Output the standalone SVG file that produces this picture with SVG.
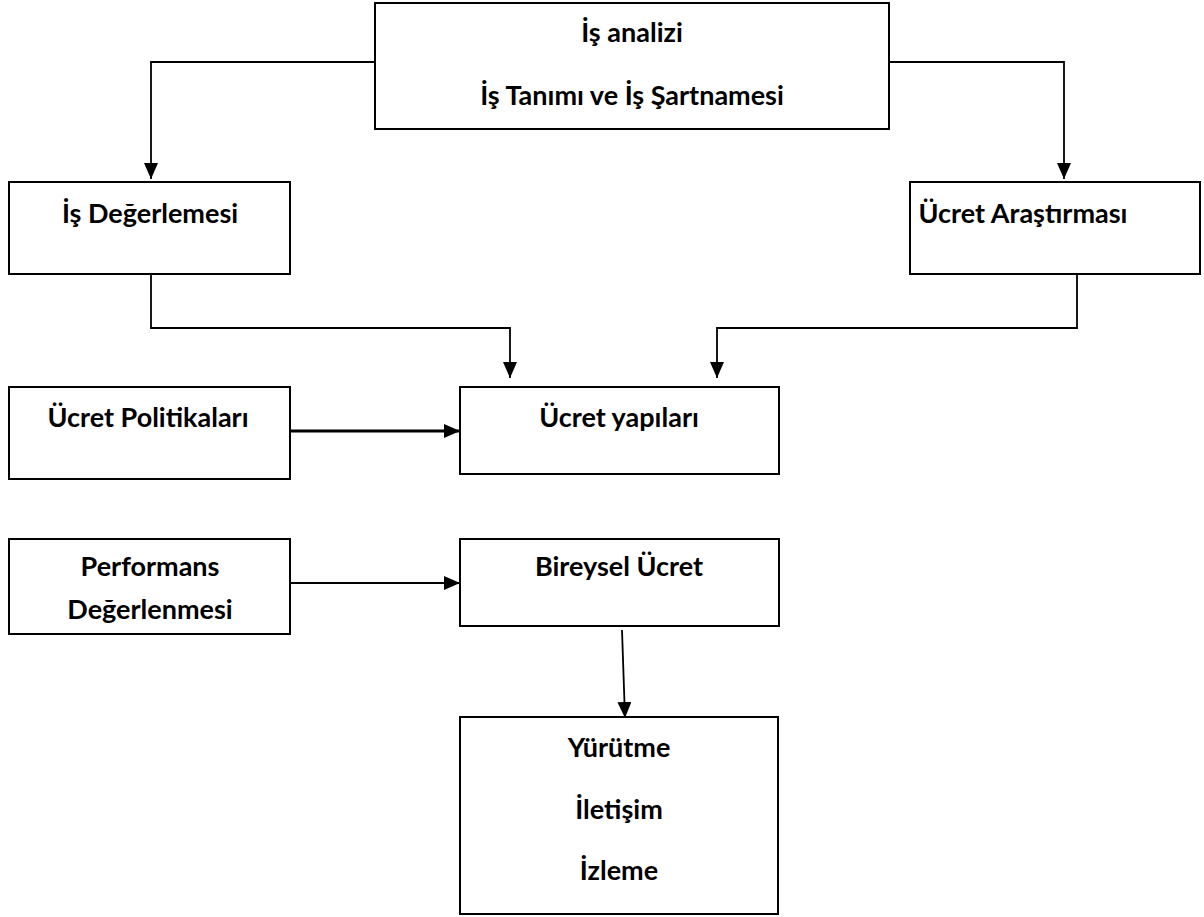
<svg xmlns="http://www.w3.org/2000/svg" width="1204" height="917" viewBox="0 0 1204 917">
  <style>
    .box { fill: #ffffff; stroke: #000000; stroke-width: 2; }
    .lbl { font-family: Lato, "Open Sans", "Liberation Sans", sans-serif; font-weight: bold; font-size: 27px; fill: #000000; text-anchor: middle; }
    .wire { fill: none; stroke: #000000; stroke-width: 1.8; }
    .wire.thick { stroke-width: 2.8; }
  </style>
  <defs>
    <marker id="head" viewBox="0 0 16 14" refX="16" refY="7" markerWidth="16" markerHeight="14" orient="auto" markerUnits="userSpaceOnUse">
      <path d="M0,0 L16,7 L0,14 Z" fill="#000000"/>
    </marker>
  </defs>

  <rect width="1204" height="917" fill="#ffffff"/>

  <g id="connectors">
    <path class="wire" d="M375,62 H151 V179" marker-end="url(#head)"/>
    <path class="wire" d="M889,62 H1064 V179" marker-end="url(#head)"/>
    <path class="wire" d="M151,274 V328 H510 V378" marker-end="url(#head)"/>
    <path class="wire" d="M1077,274 V328 H717 V378" marker-end="url(#head)"/>
    <path class="wire thick" d="M290,431 H460" marker-end="url(#head)"/>
    <path class="wire" d="M290,583 H460" marker-end="url(#head)"/>
    <path class="wire" d="M622,630 L625,718" marker-end="url(#head)"/>
  </g>

  <g id="is-analizi">
    <rect class="box" x="375" y="3" width="514" height="126"/>
    <text class="lbl" x="632" y="42">İş analizi</text>
    <text class="lbl" x="632" y="105">İş Tanımı ve İş Şartnamesi</text>
  </g>

  <g id="is-degerlemesi">
    <rect class="box" x="9" y="182" width="281" height="92"/>
    <text class="lbl" x="150" y="223">İş Değerlemesi</text>
  </g>

  <g id="ucret-arastirmasi">
    <rect class="box" x="910" y="182" width="290" height="92"/>
    <text class="lbl" x="1023" y="223">Ücret Araştırması</text>
  </g>

  <g id="ucret-politikalari">
    <rect class="box" x="9" y="387" width="281" height="92"/>
    <text class="lbl" x="148" y="427">Ücret Politikaları</text>
  </g>

  <g id="ucret-yapilari">
    <rect class="box" x="460" y="387" width="319" height="87"/>
    <text class="lbl" x="619" y="427">Ücret yapıları</text>
  </g>

  <g id="performans">
    <rect class="box" x="9" y="539" width="281" height="95"/>
    <text class="lbl" x="150" y="576">Performans</text>
    <text class="lbl" x="150" y="619">Değerlenmesi</text>
  </g>

  <g id="bireysel-ucret">
    <rect class="box" x="460" y="539" width="319" height="87"/>
    <text class="lbl" x="619" y="576">Bireysel Ücret</text>
  </g>

  <g id="yurutme">
    <rect class="box" x="460" y="717" width="318" height="197"/>
    <text class="lbl" x="619" y="757">Yürütme</text>
    <text class="lbl" x="619" y="819">İletişim</text>
    <text class="lbl" x="619" y="880">İzleme</text>
  </g>
</svg>
